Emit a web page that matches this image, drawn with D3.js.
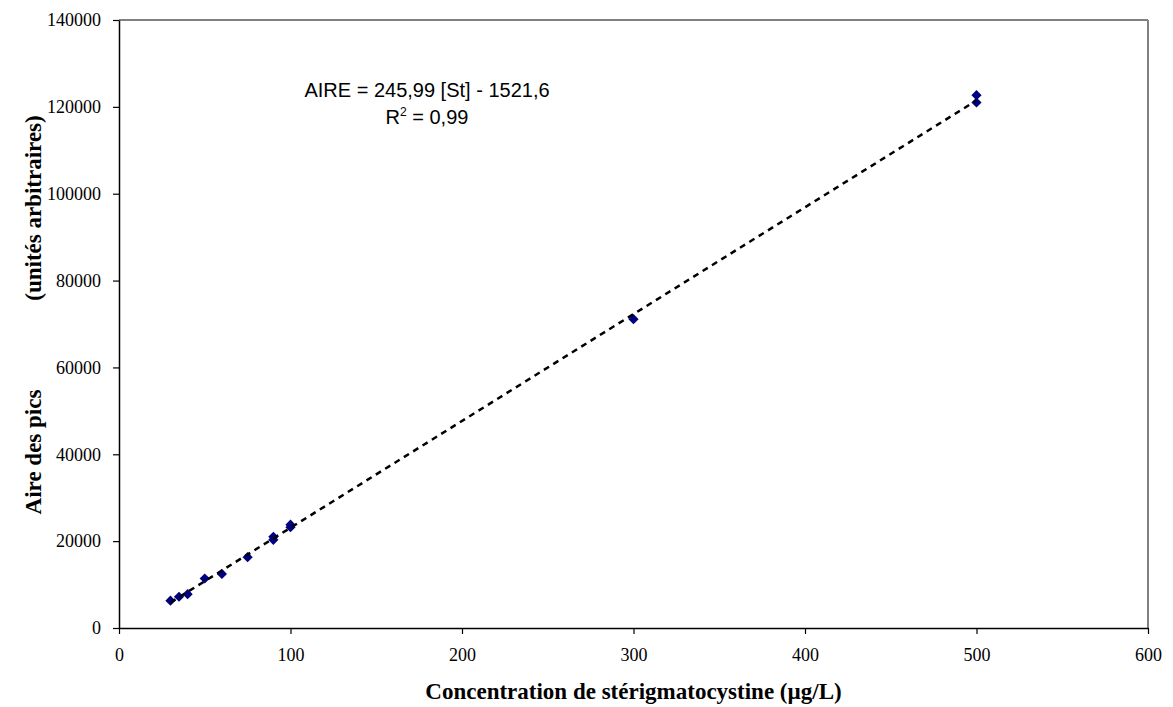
<!DOCTYPE html>
<html>
<head>
<meta charset="utf-8">
<script src="https://cdn.jsdelivr.net/npm/d3@7"></script>
<style>
  body { margin: 0; background: #fff; }
  svg { display: block; }
  .tick text { font-family: "Liberation Serif", "Times New Roman", serif; font-size: 18px; fill: #000; }
  .axis-title { font-family: "Liberation Serif", "Times New Roman", serif; font-size: 23px; font-weight: bold; }
  .eq { font-family: "Liberation Sans", Arial, sans-serif; font-size: 20px; }
</style>
</head>
<body>
<svg id="chart"></svg>
<script>
// concentration (µg/L) and peak area values
const concentrations = [30, 35, 40, 50, 60, 75, 90, 90, 100, 100, 300, 500, 500];
const areas = [6300, 7200, 7800, 11400, 12450, 16300, 20300, 21000, 23200, 23800, 71100, 121000, 122700];
const xTicks = [0, 100, 200, 300, 400, 500, 600];
const yTicks = [0, 20000, 40000, 60000, 80000, 100000, 120000, 140000];
// trendline from the equation shown on the chart
const slope = 245.99;
const intercept = -1521.6;
const eqLines = ["AIRE = 245,99 [St] - 1521,6"];

const width = 1173, height = 707;
const margin = { top: 20, right: 25, bottom: 79, left: 119 };

const svg = d3.select("#chart").attr("width", width).attr("height", height);
const innerW = width - margin.left - margin.right;
const innerH = height - margin.top - margin.bottom;

const g = svg.append("g").attr("transform", `translate(${margin.left},${margin.top})`);

const x = d3.scaleLinear().domain([0, 600]).range([0, innerW]);
const y = d3.scaleLinear().domain([0, 140000]).range([innerH, 0]);

// gray frame top/right
g.append("line").attr("x1", 0).attr("x2", innerW).attr("y1", 0).attr("y2", 0)
  .attr("stroke", "#808080").attr("stroke-width", 2);
g.append("line").attr("x1", innerW).attr("x2", innerW).attr("y1", 0).attr("y2", innerH)
  .attr("stroke", "#808080").attr("stroke-width", 2);

// axes
const xAxis = g.append("g").attr("transform", `translate(0,${innerH})`)
  .call(d3.axisBottom(x).tickValues(xTicks).tickSize(6).tickSizeOuter(0).tickPadding(14));
const yAxis = g.append("g")
  .call(d3.axisLeft(y).tickValues(yTicks).tickSize(6).tickSizeOuter(0).tickPadding(12).tickFormat(d3.format("d")));
[xAxis, yAxis].forEach(a => {
  a.select(".domain").attr("stroke", "#000").attr("stroke-width", 1.5);
  a.selectAll(".tick line").attr("stroke", "#000").attr("stroke-width", 1.2);
});

// points
const pts = concentrations.map((c, i) => ({ c, a: areas[i] }));
g.selectAll(".pt").data(pts).join("path")
  .attr("class", "pt")
  .attr("d", d3.symbol().type(d3.symbolSquare).size(52))
  .attr("transform", d => `translate(${x(d.c)},${y(d.a)}) rotate(45)`)
  .attr("fill", "#000080");

// trendline
const xMin = d3.min(concentrations), xMax = d3.max(concentrations);
g.append("line")
  .attr("x1", x(xMin)).attr("y1", y(slope * xMin + intercept))
  .attr("x2", x(xMax)).attr("y2", y(slope * xMax + intercept))
  .attr("stroke", "#000").attr("stroke-width", 2.5)
  .attr("stroke-dasharray", "6,5");

// equation
svg.append("text").attr("class", "eq").attr("x", 427).attr("y", 97)
  .attr("text-anchor", "middle").text(eqLines[0]);
const r2 = svg.append("text").attr("class", "eq").attr("x", 427).attr("y", 124).attr("text-anchor", "middle");
r2.append("tspan").text("R");
r2.append("tspan").attr("dy", -8).attr("font-size", 12).text("2");
r2.append("tspan").attr("dy", 8).text(" = 0,99");

// axis titles
svg.append("text").attr("class", "axis-title")
  .attr("x", margin.left + innerW / 2).attr("y", 699)
  .attr("text-anchor", "middle")
  .text("Concentration de stérigmatocystine (µg/L)");

svg.append("text").attr("class", "axis-title")
  .attr("transform", "translate(41,452) rotate(-90)")
  .attr("text-anchor", "middle").text("Aire des pics");
svg.append("text").attr("class", "axis-title")
  .attr("transform", "translate(41,208) rotate(-90)")
  .attr("text-anchor", "middle").text("(unités arbitraires)");
</script>
</body>
</html>
